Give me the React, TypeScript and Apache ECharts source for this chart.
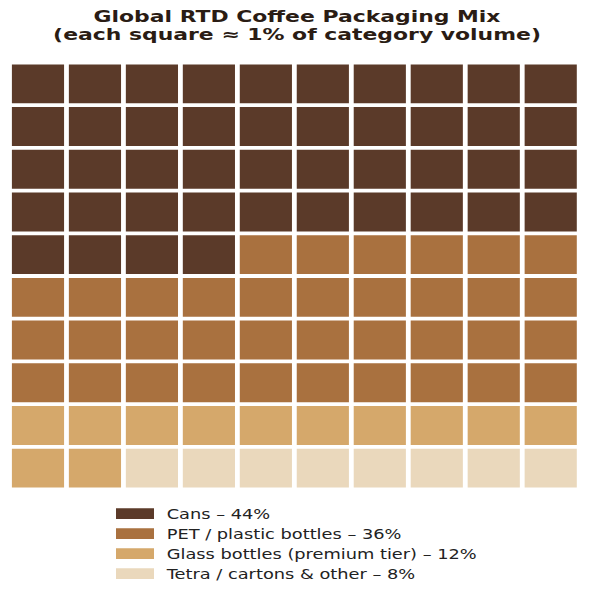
import React, { useEffect, useRef } from "react";
import * as echarts from "echarts";

const categories = [
  "Cans",
  "PET / plastic bottles",
  "Glass bottles (premium tier)",
  "Tetra / cartons & other",
];
const values = [44, 36, 12, 8];
const colors = ["#5B3A29", "#A9713F", "#D5A86B", "#EAD8BC"];
const gridCols = 10;
const gridRows = 10;
const titleLines = [
  "Global RTD Coffee Packaging Mix",
  "(each square \u2248 1% of category volume)",
];

function buildCells(): number[][][] {
  const out: number[][][] = categories.map(() => []);
  let idx = 0;
  values.forEach((v, ci) => {
    for (let k = 0; k < v; k++) {
      const col = idx % gridCols;
      const row = Math.floor(idx / gridCols);
      out[ci].push([col, row]);
      idx++;
    }
  });
  return out;
}

export default function App() {
  const ref = useRef<HTMLDivElement>(null);
  useEffect(() => {
    if (!ref.current) return;
    const chart = echarts.init(ref.current, null, { renderer: "svg" });
    const cells = buildCells();
    const gapX = 4.8;
    const gapY = 3.8;
    const legendNames = categories.map((c, i) => `${c} \u2013 ${values[i]}%`);

    const titleGraphics = titleLines.map((t, i) => ({
      type: "text",
      x: 297,
      y: 16.5 + i * 17.6,
      scaleX: 1.37,
      silent: true,
      style: {
        text: t,
        textAlign: "center",
        textVerticalAlign: "middle",
        fontFamily: "DejaVu Sans",
        fontWeight: "bold",
        fontSize: 16,
        lineHeight: 16,
        fill: "#2a1c14",
      },
    }));

    const legendGraphics: any[] = [];
    legendNames.forEach((name, i) => {
      const cy = 513.7 + i * 20;
      legendGraphics.push({
        type: "rect",
        silent: true,
        shape: { x: 116, y: cy - 5.35, width: 38, height: 10.7 },
        style: { fill: colors[i] },
      });
      legendGraphics.push({
        type: "text",
        x: 166.7,
        y: cy,
        scaleX: 1.27,
        silent: true,
        style: {
          text: name,
          textAlign: "left",
          textVerticalAlign: "middle",
          fontFamily: "DejaVu Sans",
          fontSize: 14,
          lineHeight: 14,
          fill: "#222222",
        },
      });
    });

    chart.setOption({
      animation: false,
      backgroundColor: "#ffffff",
      grid: { left: 9.5, right: 14.8, top: 62.5, bottom: 104.5 },
      xAxis: { type: "value", min: 0, max: gridCols, show: false },
      yAxis: { type: "value", min: 0, max: gridRows, inverse: true, show: false },
      graphic: [...titleGraphics, ...legendGraphics],
      series: cells.map((data, ci) => ({
        type: "custom",
        name: legendNames[ci],
        itemStyle: { color: colors[ci] },
        data,
        renderItem: (params: any, api: any) => {
          const p = api.coord([api.value(0), api.value(1)]);
          const s = api.size([1, 1]);
          return {
            type: "rect",
            shape: {
              x: p[0] + gapX / 2,
              y: p[1] + gapY / 2,
              width: s[0] - gapX,
              height: s[1] - gapY,
            },
            style: { fill: colors[ci] },
          };
        },
      })),
    });
    return () => chart.dispose();
  }, []);
  return <div ref={ref} style={{ width: 594, height: 594, position: "absolute", left: 0, top: 0 }} />;
}
